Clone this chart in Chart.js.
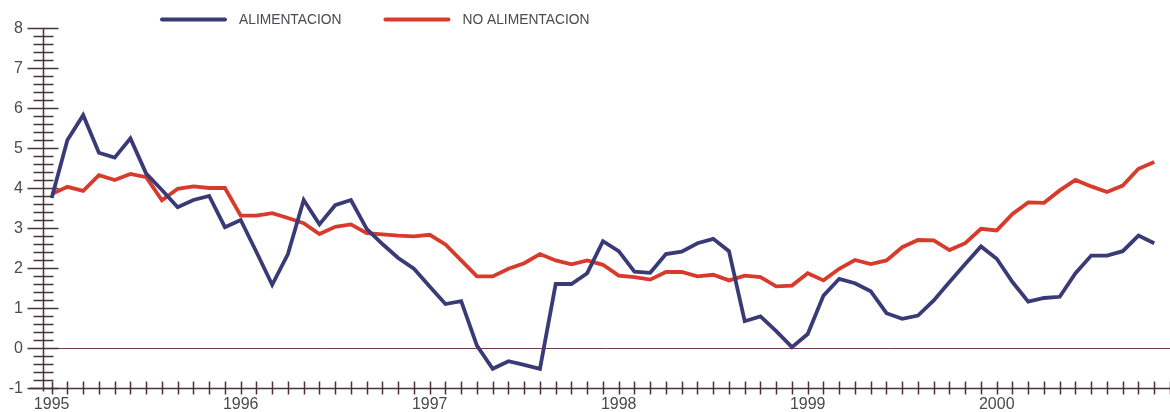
<!DOCTYPE html>
<html>
<head>
<meta charset="utf-8">
<script src="https://cdn.jsdelivr.net/npm/chart.js@4.4.1/dist/chart.umd.min.js"></script>
<style>
html,body{margin:0;padding:0;background:#ffffff;}
#wrap{width:1170px;height:412px;position:relative;}
</style>
</head>
<body>
<div id="wrap"><canvas id="c"></canvas></div>
<script>
// ---- data ----
const yearLabels = ['1995', '1996', '1997', '1998', '1999', '2000'];
const monthNames = ['Ene','Feb','Mar','Abr','May','Jun','Jul','Ago','Sep','Oct','Nov','Dic'];
const yTickLabels = ['-1', '0', '1', '2', '3', '4', '5', '6', '7', '8'];
const seriesNames = ['ALIMENTACION', 'NO ALIMENTACION'];

const alimentacion = [
  3.75, 5.20, 5.82, 4.88, 4.76, 5.24, 4.36, 3.95, 3.52, 3.70, 3.80, 3.02,
  3.20, 2.40, 1.58, 2.35, 3.70, 3.09, 3.57, 3.70, 2.98, 2.60, 2.25, 1.98,
  1.54, 1.10, 1.17, 0.06, -0.52, -0.33, -0.42, -0.52, 1.60, 1.60, 1.87, 2.67,
  2.42, 1.91, 1.88, 2.35, 2.41, 2.62, 2.73, 2.42, 0.67, 0.79, 0.42, 0.02,
  0.35, 1.31, 1.73, 1.62, 1.42, 0.87, 0.73, 0.81, 1.19, 1.65, 2.10, 2.54,
  2.23, 1.65, 1.16, 1.25, 1.28, 1.87, 2.31, 2.31, 2.42, 2.81, 2.62
];
const noAlimentacion = [
  3.85, 4.03, 3.93, 4.32, 4.20, 4.35, 4.27, 3.69, 3.98, 4.04, 4.00, 4.00,
  3.31, 3.31, 3.37, 3.25, 3.12, 2.85, 3.03, 3.09, 2.87, 2.84, 2.81, 2.79,
  2.83, 2.59, 2.19, 1.79, 1.79, 1.98, 2.12, 2.35, 2.19, 2.09, 2.19, 2.08,
  1.81, 1.77, 1.71, 1.90, 1.90, 1.79, 1.83, 1.69, 1.81, 1.77, 1.54, 1.56,
  1.87, 1.69, 1.98, 2.20, 2.10, 2.19, 2.52, 2.70, 2.69, 2.45, 2.62, 2.98,
  2.94, 3.35, 3.64, 3.63, 3.94, 4.20, 4.04, 3.90, 4.06, 4.48, 4.65
];

// category labels (one per month)
const categories = [];
yearLabels.forEach(yr => monthNames.forEach(m => categories.push(m + ' ' + yr)));
categories.length = alimentacion.length;

const toPoints = arr => arr.map((v, i) => ({x: i, y: v}));

const AXIS_COLOR = '#4a313c';
const ZERO_COLOR = '#6e3c4c';
const LABEL_COLOR = '#4a4a4a';
const FONT = '"Liberation Sans", Arial, Helvetica, sans-serif';

const axesPlugin = {
  id: 'customAxes',
  beforeDatasetsDraw(chart) {
    const {ctx, chartArea: ca} = chart;
    const x = chart.scales.x, y = chart.scales.y;
    ctx.save();
    // zero line
    const y0 = Math.round(y.getPixelForValue(0)) + 0.5;
    ctx.strokeStyle = ZERO_COLOR;
    ctx.lineWidth = 1;
    ctx.beginPath();
    ctx.moveTo(ca.left, y0);
    ctx.lineTo(ca.right, y0);
    ctx.stroke();

    // y axis
    const ax = Math.round(ca.left) + 0.5;
    const yMin = Number(yTickLabels[0]);
    const yMax = Number(yTickLabels[yTickLabels.length - 1]);
    const bottomY = Math.round(y.getPixelForValue(yMin)) + 0.5;
    ctx.strokeStyle = AXIS_COLOR;
    ctx.lineWidth = 1.5;
    ctx.beginPath();
    ctx.moveTo(ax, Math.round(y.getPixelForValue(yMax)) + 0.5);
    ctx.lineTo(ax, bottomY + 3);
    ctx.stroke();
    ctx.beginPath();
    const steps = (yMax - yMin) * 5;
    for (let k = 0; k <= steps; k++) {
      const v = yMin + k / 5;
      const py = Math.round(y.getPixelForValue(v)) + 0.5;
      const major = k % 5 === 0;
      ctx.moveTo(ax - (major ? 16 : 10), py);
      ctx.lineTo(ax + (major ? 15 : 10), py);
    }
    ctx.stroke();

    // x axis
    ctx.beginPath();
    ctx.moveTo(ax - 14, bottomY);
    ctx.lineTo(ca.right, bottomY);
    ctx.stroke();
    ctx.beginPath();
    for (let i = 0; i <= categories.length; i++) {
      const px = Math.round(x.getPixelForValue(i)) + 0.5;
      ctx.moveTo(px, bottomY - 7);
      ctx.lineTo(px, bottomY + 6);
    }
    ctx.stroke();

    // labels
    ctx.fillStyle = LABEL_COLOR;
    ctx.font = '16px ' + FONT;
    ctx.textAlign = 'right';
    ctx.textBaseline = 'middle';
    yTickLabels.forEach(t => {
      ctx.fillText(t, 23, y.getPixelForValue(Number(t)) + 0.5);
    });
    ctx.textAlign = 'center';
    yearLabels.forEach((t, k) => {
      ctx.fillText(t, x.getPixelForValue(k * 12), bottomY + 16);
    });
    ctx.restore();
  },
  afterDraw(chart) {
    const {ctx} = chart;
    ctx.save();
    ctx.font = '13.8px ' + FONT;
    ctx.textBaseline = 'middle';
    ctx.textAlign = 'left';
    let cx = 162;
    const ly = 19.5;
    chart.data.datasets.forEach(ds => {
      ctx.strokeStyle = ds.borderColor;
      ctx.lineWidth = 4;
      ctx.lineCap = 'round';
      ctx.beginPath();
      ctx.moveTo(cx, ly);
      ctx.lineTo(cx + 63, ly);
      ctx.stroke();
      ctx.fillStyle = '#4a4a52';
      ctx.fillText(ds.label, cx + 77, ly + 0.5);
      cx += 77 + ctx.measureText(ds.label).width + 44;
    });
    ctx.restore();
  }
};

new Chart(document.getElementById('c'), {
  type: 'line',
  data: {
    labels: categories,
    datasets: [
      {
        label: seriesNames[0],
        data: toPoints(alimentacion),
        borderColor: '#3a3a76',
        borderWidth: 3.8,
        pointRadius: 0,
        tension: 0,
        fill: false
      },
      {
        label: seriesNames[1],
        data: toPoints(noAlimentacion),
        borderColor: '#d83a2b',
        borderWidth: 3.8,
        pointRadius: 0,
        tension: 0,
        fill: false
      }
    ]
  },
  options: {
    responsive: true,
    maintainAspectRatio: false,
    animation: false,
    devicePixelRatio: 1,
    layout: {padding: {left: 43, top: 28, right: 0, bottom: 24}},
    plugins: {legend: {display: false}, tooltip: {enabled: false}},
    scales: {
      x: {type: 'linear', min: -0.55, max: 71, display: false},
      y: {type: 'linear', min: -1, max: 8, display: false}
    }
  },
  plugins: [axesPlugin]
});
</script>
</body>
</html>
